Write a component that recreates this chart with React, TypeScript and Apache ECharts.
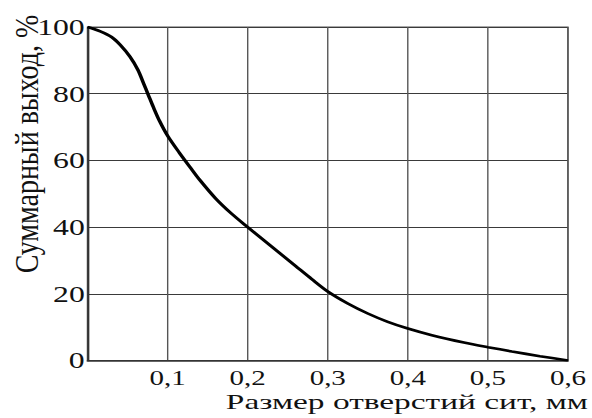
import React, { useEffect, useRef } from "react";
import * as echarts from "echarts";

// Sieve opening size, mm
const sizes = [0, 0.016, 0.03, 0.041, 0.053, 0.063, 0.07, 0.076, 0.082, 0.09, 0.1, 0.115, 0.128, 0.14, 0.16, 0.18, 0.2, 0.22, 0.24, 0.26, 0.28, 0.3, 0.325, 0.35, 0.375, 0.4, 0.43, 0.47, 0.5, 0.53, 0.565, 0.6];
// Cumulative yield, %
const yields = [100, 98.7, 97.0, 94.6, 91.1, 87.1, 83.1, 79.6, 76.1, 71.8, 67.4, 62.2, 58.0, 54.2, 48.6, 44.0, 40.0, 36.1, 32.2, 28.3, 24.4, 20.7, 17.1, 14.1, 11.6, 9.6, 7.6, 5.4, 4.0, 2.7, 1.3, 0];

const xTitle = "Размер отверстий сит, мм";
const yTitle = "Суммарный выход, %";

const S = 1.38; // horizontal stretch of the original picture
const W = 592 / S;
const H = 418;
const FONT = "Liberation Serif";

export default function App() {
  const ref = useRef<HTMLDivElement>(null);
  useEffect(() => {
    if (!ref.current) return;
    const chart = echarts.init(ref.current, null, { renderer: "svg", width: W, height: H });
    const data = sizes.map((s, i) => [s, yields[i]]);
    chart.setOption({
      animation: false,
      backgroundColor: "#ffffff",
      grid: {
        left: 87.5 / S,
        right: 24 / S,
        top: 27,
        bottom: 57.5,
        show: true,
        borderColor: "#555",
        borderWidth: 1,
      },
      xAxis: {
        type: "value",
        min: 0,
        max: 0.6,
        interval: 0.1,
        axisLine: { show: true, lineStyle: { color: "#333", width: 1.5 } },
        axisTick: { show: false },
        splitLine: { show: true, lineStyle: { color: "#555", width: 1 } },
        axisLabel: {
          margin: 7,
          fontSize: 21,
          lineHeight: 20,
          fontFamily: FONT,
          color: "#111",
          formatter: (v: number) => (v === 0 ? "" : v.toFixed(1).replace(".", ",")),
        },
      },
      yAxis: {
        type: "value",
        min: 0,
        max: 100,
        interval: 20,
        axisLine: { show: true, lineStyle: { color: "#333", width: 1.5 } },
        axisTick: { show: false },
        splitLine: { show: true, lineStyle: { color: "#3a3a3a", width: 1 } },
        axisLabel: {
          margin: 2,
          fontSize: 23,
          fontFamily: FONT,
          color: "#111",
        },
      },
      graphic: [
        {
          type: "text",
          x: 588 / S,
          y: 402,
          scaleX: 1.1,
          style: {
            text: xTitle,
            align: "right",
            verticalAlign: "middle",
            lineHeight: 20,
            fontSize: 22,
            fontFamily: FONT,
            fill: "#111",
          },
        },
        {
          type: "text",
          x: 27 / S,
          y: 144,
          rotation: Math.PI / 2,
          scaleY: 0.87,
          style: {
            text: yTitle,
            align: "center",
            verticalAlign: "middle",
            fontSize: 28,
            fontFamily: FONT,
            fill: "#111",
          },
        },
      ],
      series: [
        {
          type: "line",
          data,
          smooth: 0.3,
          showSymbol: false,
          lineStyle: { color: "#000", width: 2.6 },
        },
      ],
    });
    return () => chart.dispose();
  }, []);
  return (
    <div style={{ position: "fixed", left: 0, top: 0, width: 592, height: 418, overflow: "hidden", background: "#fff" }}>
      <div
        ref={ref}
        style={{ width: W, height: H, transform: `scaleX(${S})`, transformOrigin: "0 0" }}
      />
    </div>
  );
}
